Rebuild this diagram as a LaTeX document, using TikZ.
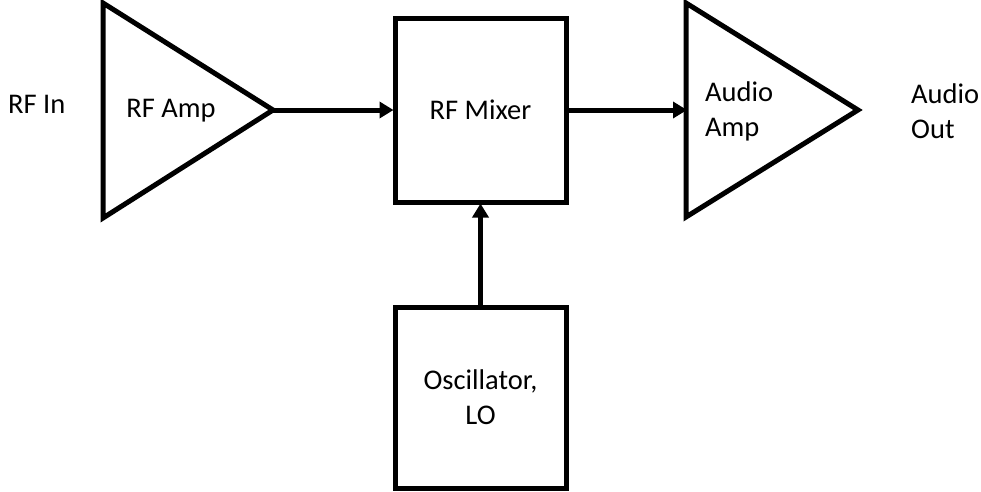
\documentclass[tikz,border=0pt]{standalone}
\usepackage{fontspec}
\setmainfont{Carlito}
\usetikzlibrary{arrows.meta}
\begin{document}
\begin{tikzpicture}[x=1pt,y=-1pt,
  shapeline/.style={line width=5pt,line join=miter},
  blockbox/.style={draw,line width=5pt,minimum width=171pt,inner sep=0pt,font=\fontsize{28.5}{35}\selectfont,align=center},
  lbl/.style={font=\fontsize{28.5}{35}\selectfont,inner sep=0pt},
  conn/.style={line width=5pt,-{Triangle[length=14pt,width=16pt]},shorten >=-1pt}]
\useasboundingbox (0,0) rectangle (981,491);
% RF amp triangle
\coordinate (a1t) at (103,3);
\coordinate (a1b) at (103,218);
\coordinate (a1o) at (273,110);
\draw[shapeline] (a1t) -- (a1b) -- (a1o) -- cycle;
% Audio amp triangle
\coordinate (a2t) at (686,3);
\coordinate (a2b) at (686,217);
\coordinate (a2i) at (686,110);
\coordinate (a2o) at (858,110);
\draw[shapeline] (a2t) -- (a2b) -- (a2o) -- cycle;
% boxes
\node[blockbox,minimum height=184pt] (mix) at (480.5,110) {RF Mixer};
\node[blockbox,minimum height=181pt] (osc) at (480.5,397.5) {Oscillator,\\LO};
% labels
\node[lbl,anchor=west] (rfin) at (8,104) {RF In};
\node[lbl] (rfamp) at (171,111) {RF Amp};
\node[lbl,anchor=west,align=left] (aamp) at (705,111) {Audio\\Amp};
\node[lbl,anchor=west,align=left] (aout) at (911,111) {Audio\\Out};
% connectors
\draw[conn] (a1o) -- (mix.west);
\draw[conn] (mix.east) -- (a2i);
\draw[conn] (osc.north) -- (mix.south);
\end{tikzpicture}
\end{document}
